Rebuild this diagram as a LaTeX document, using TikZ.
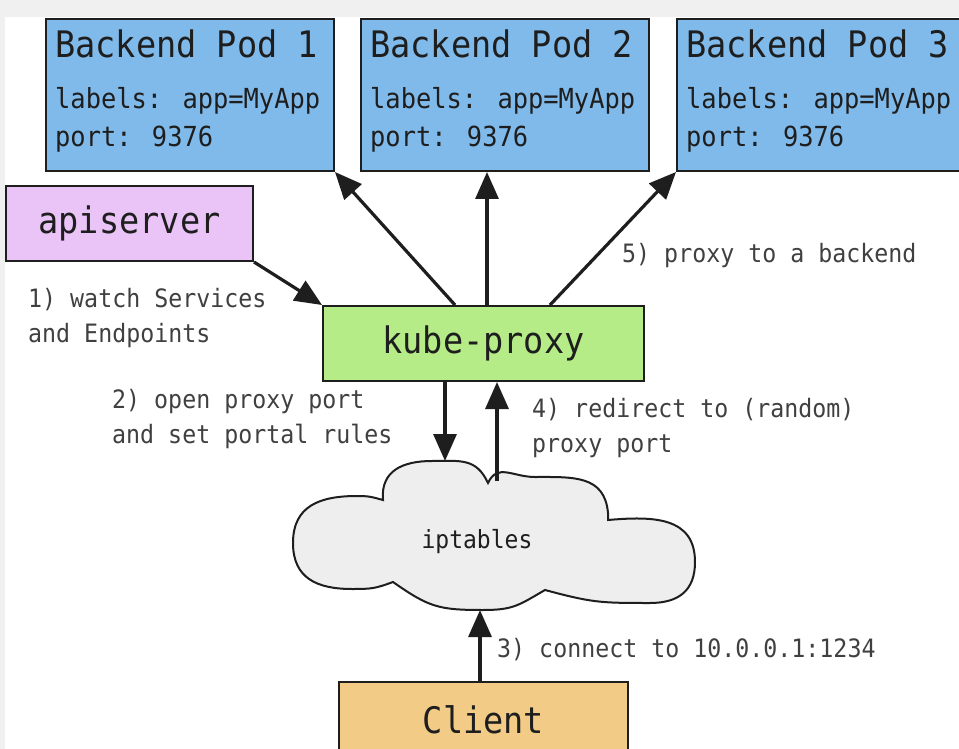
\documentclass[tikz,border=0pt]{standalone}
\usepackage{fontspec}
\newfontfamily\monofont[FakeStretch=0.92]{DejaVu Sans Mono}
\usetikzlibrary{arrows.meta,calc}
\definecolor{podblue}{HTML}{80BAEA}
\definecolor{apipink}{HTML}{EAC4F6}
\definecolor{proxygreen}{HTML}{B6EC88}
\definecolor{clientorange}{HTML}{F2CB86}
\definecolor{cloudgray}{HTML}{EEEEEE}
\definecolor{ink}{HTML}{1E1E1E}

\begin{document}
\begin{tikzpicture}[x=1pt,y=-1pt,
   box/.style={draw=ink,line width=2pt,anchor=north west,inner sep=0pt},
   big/.style={font=\monofont\fontsize{36.5}{40}\selectfont,text=ink},
   podtxt/.style={font=\monofont\fontsize{27.6}{39}\selectfont,text=ink,inner sep=0pt,anchor=base west,align=left},
   lbl/.style={font=\monofont\fontsize{25.3}{35}\selectfont,text=ink!85,inner sep=0pt,anchor=base west,align=left},
   arr/.style={line width=3.2pt,draw=ink,-{Triangle[length=27pt,width=23pt]}}]
   \useasboundingbox (0,0) rectangle (959,749);
   \fill[gray!12] (0,0) rectangle (959,749);
   \fill[white] (5,17) rectangle (959,749);
   \clip (0,0) rectangle (959,749);
   % backend pods (multi-line text: base = last line)
   \foreach \i/\x in {1/45,2/360,3/676} {
     \node[box,fill=podblue,minimum width=288,minimum height=152] (pod\i) at (\x,18) {};
     \node[big,inner sep=0pt,anchor=base west] (pod\i-name) at ($(pod\i.north west)+(10,40)$) {Backend Pod \i};
     \node[podtxt] (pod\i-info) at ($(pod\i.north west)+(10,129)$) {labels: app=MyApp\\port: 9376};
   }
   \node[box,big,fill=apipink,minimum width=247,minimum height=75] (api) at (5,185) {apiserver};
   \node[box,big,fill=proxygreen,minimum width=321,minimum height=75] (kp) at (322,305) {kube-proxy};
   \node[box,big,fill=clientorange,minimum width=289,minimum height=76] (client) at (338,681) {Client};
   % iptables cloud
   \filldraw[fill=cloudgray,draw=ink,line width=2pt,looseness=1.2]
     (383,500) to[out=95,in=180] (432,461) to[out=0,in=115] (488,483)
     to[out=65,in=180] (535,477) to[out=0,in=95] (608,513) -- (608,520)
     to[out=5,in=90] (695,562) to[out=270,in=0] (650,603) to[out=180,in=-15] (545,590)
     to[out=210,in=0] (483,610) to[out=180,in=-35] (393,582)
     to[out=200,in=0] (352,589) to[out=180,in=270] (293,543) to[out=90,in=180] (357,496)
     to[out=0,in=165] cycle;
   \node[font=\monofont\fontsize{25}{30}\selectfont,text=ink,inner sep=0pt,anchor=base] (ipt) at (477,548) {iptables};
   \coordinate (ipt-in) at (445,461);
   \coordinate (ipt-out) at (497,481);
   \coordinate (ipt-bot) at (480,610);
   % connectors
   \draw[arr] (api.south east) -- (kp.north west);
   \draw[arr] ($(kp.north west)+(133,0)$) -- (pod1.south east);
   \draw[arr] ($(kp.north west)+(165,0)$) -- ($(pod2.south west)+(127,0)$);
   \draw[arr] ($(kp.north west)+(228,0)$) -- (pod3.south west);
   \draw[arr] (kp.south -| ipt-in) -- (ipt-in);
   \draw[arr] (ipt-out) -- (kp.south -| ipt-out);
   \draw[arr] (client.north -| ipt-bot) -- (ipt-bot);
   % step labels
   \node[lbl] (l1) at (28,342) {1) watch Services\\and Endpoints};
   \node[lbl] (l2) at (112,443) {2) open proxy port\\and set portal rules};
   \node[lbl] (l3) at (497,657) {3) connect to 10.0.0.1:1234};
   \node[lbl] (l4) at (532,452) {4) redirect to (random)\\proxy port};
   \node[lbl] (l5) at (622,262) {5) proxy to a backend};
\end{tikzpicture}
\end{document}
